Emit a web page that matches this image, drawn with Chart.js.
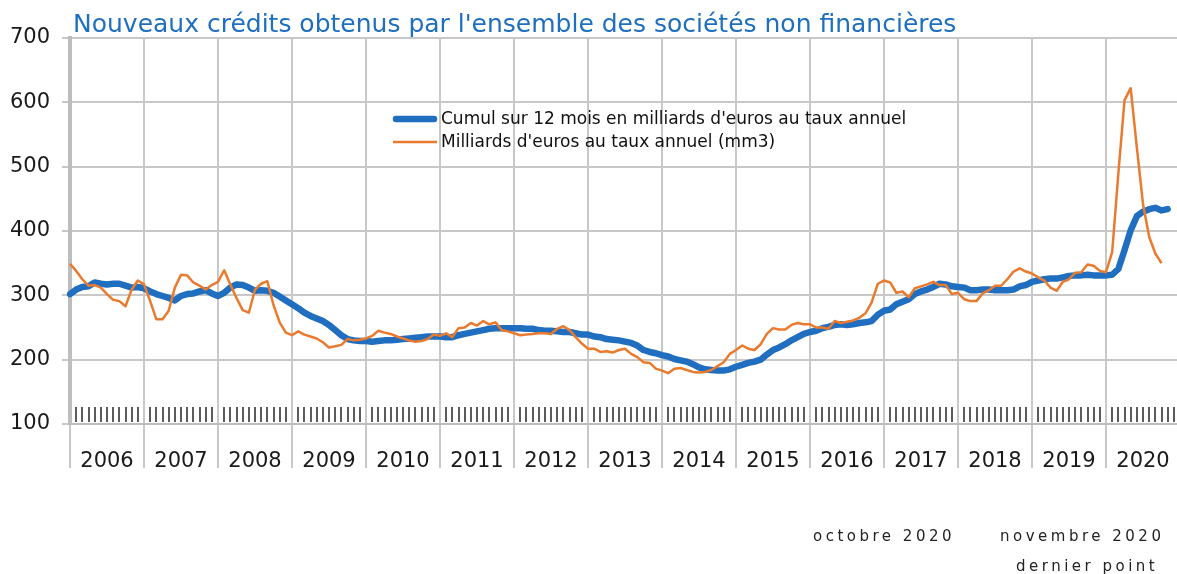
<!DOCTYPE html>
<html>
<head>
<meta charset="utf-8">
<script src="https://cdn.jsdelivr.net/npm/chart.js@4"></script>
<style>
  html, body { margin: 0; padding: 0; background: #fff; overflow: hidden; }
  #wrap { position: relative; width: 1177px; height: 574px; overflow: hidden; }
  canvas { position: absolute; left: 0; top: 0; }
  .note { position: absolute; font-family: "DejaVu Sans"; font-size: 15px; letter-spacing: 3.5px; color: #222; white-space: nowrap; }
</style>
</head>
<body>
<div id="wrap">
  <canvas id="graphCredits" width="1180" height="574"></canvas>
  <div class="note" style="left:813px; top:527px">octobre 2020</div>
  <div class="note" style="left:1000px; top:527px">novembre 2020</div>
  <div class="note" style="left:1016px; top:557px">dernier point</div>
</div>
<script>
const title = "Nouveaux crédits obtenus par l'ensemble des sociétés non financières";
const years = [2006, 2007, 2008, 2009, 2010, 2011, 2012, 2013, 2014, 2015, 2016, 2017, 2018, 2019, 2020];
const yTicks = [100, 200, 300, 400, 500, 600, 700];

// Cumul sur 12 mois, janv. 2006 -> nov. 2020
const cumul12m = [
  302, 309, 313, 314, 320, 318, 317, 318, 318, 315, 312, 313,
  311, 306, 302, 299, 296, 292, 299, 302, 303, 306, 308, 303,
  299, 304, 312, 317, 316, 312, 307, 308, 307, 304, 298, 292,
  286, 280, 273, 268, 264, 260, 254, 246, 238, 232, 230, 229,
  229, 228, 229, 230, 230, 231, 232, 233, 234, 235, 236, 236,
  236, 235, 235, 238, 240, 242, 244, 246, 248, 249, 249, 249,
  249, 249, 248, 248, 246, 245, 245, 244, 243, 243, 241, 239,
  239, 236, 235, 232, 231, 230, 228, 226, 222, 215, 212, 210,
  207, 205, 201, 199, 197, 193, 188, 185, 184, 183, 183, 185,
  189, 192, 195, 197, 200, 208, 215, 219, 224, 230, 235, 240,
  243, 245, 249, 251, 254, 255, 254, 255, 257, 258, 260, 270,
  276, 278, 286, 290, 294, 302, 306, 309, 313, 318, 317, 314,
  313, 312, 308, 308, 309, 309, 308, 308, 308, 309, 314, 316,
  321, 323, 325, 326, 326, 328, 330, 331, 331, 332, 331, 331,
  331, 332, 341, 370, 401, 423, 430, 434, 436, 432, 434
];

// Taux annuel mm3, janv. 2006 -> oct. 2020
const mm3 = [
  349, 338, 325, 315, 316, 312, 302, 293, 291, 283, 309, 323,
  317, 291, 263, 263, 276, 312, 332, 331, 320, 315, 309, 316,
  321, 339, 317, 296, 277, 273, 309, 318, 322, 285, 258, 242,
  238, 244, 239, 236, 233, 227, 219, 221, 223, 232, 230, 231,
  233, 237, 245, 242, 240, 236, 233, 230, 228, 229, 232, 239,
  237, 241, 235, 249, 250, 257, 253, 260, 255, 258, 246, 244,
  241, 238, 239, 240, 241, 241, 240, 248, 252, 246, 235, 225,
  217, 217, 212, 213, 211, 215, 217, 209, 204, 196, 195, 186,
  183, 179, 186, 187, 184, 181, 180, 181, 184, 190, 196, 209,
  215, 222, 217, 215, 224, 240, 249, 247, 247, 254, 257, 255,
  255, 250, 250, 248, 260, 257, 259, 261, 265, 272, 289, 318,
  323, 320, 304, 306, 297, 311, 314, 317, 321, 316, 316, 302,
  304, 294, 291, 291, 303, 308, 315, 315, 325, 337, 342, 337,
  334, 328, 323, 312, 307, 321, 325, 335, 336, 348, 346, 338,
  336, 367, 489, 603, 622, 530, 442, 391, 365, 350
];

// one label per month, plus janv. 2021 as right edge of the axis
const months = [];
years.forEach(y => {
  for (let m = 1; m <= 12; m++) months.push(y + '-' + String(m).padStart(2, '0'));
});
months.push('2021-01');

const yearLine = ctx => (ctx.index % 12 === 0 ? '#c8c8c8' : 'rgba(0,0,0,0)');

const decor = {
  id: 'decor',
  beforeDatasetsDraw(chart) {
    const { ctx, chartArea, scales } = chart;
    ctx.save();
    ctx.strokeStyle = '#333';
    ctx.lineWidth = 1.6;
    for (let i = 1; i < months.length - 1; i++) {
      if (i % 12 === 0) continue;
      const px = Math.round(scales.x.getPixelForTick(i));
      ctx.beginPath();
      ctx.moveTo(px, chartArea.bottom - 17);
      ctx.lineTo(px, chartArea.bottom - 2);
      ctx.stroke();
    }
    ctx.restore();
  },
  afterDraw(chart) {
    const { ctx } = chart;
    ctx.save();
    // titre
    ctx.font = '25px "DejaVu Sans"';
    ctx.fillStyle = '#1f6fc0';
    ctx.textBaseline = 'alphabetic';
    ctx.fillText(title, 73, 32);
    // legende
    ctx.font = '17px "DejaVu Sans"';
    ctx.fillStyle = '#111';
    ctx.textBaseline = 'middle';
    chart.data.datasets.forEach((ds, k) => {
      const y = 119 + k * 23;
      ctx.strokeStyle = ds.borderColor;
      ctx.lineWidth = ds.borderWidth;
      ctx.lineCap = k === 0 ? 'round' : 'butt';
      ctx.beginPath();
      ctx.moveTo(k === 0 ? 396 : 393, y);
      ctx.lineTo(k === 0 ? 434 : 437, y);
      ctx.stroke();
      ctx.fillText(ds.label, 441, y + 1);
    });
    ctx.restore();
  }
};

new Chart(document.getElementById('graphCredits'), {
  type: 'line',
  data: {
    labels: months,
    datasets: [
      {
        label: "Cumul sur 12 mois en milliards d'euros au taux annuel",
        data: cumul12m,
        borderColor: '#1f6ebf',
        borderWidth: 6.5,
        borderCapStyle: 'round',
        borderJoinStyle: 'round',
        pointRadius: 0,
        fill: false,
        order: 2
      },
      {
        label: "Milliards d'euros au taux annuel (mm3)",
        data: mm3,
        borderColor: '#e97a2e',
        borderWidth: 2.5,
        borderJoinStyle: 'round',
        pointRadius: 0,
        fill: false,
        order: 1
      }
    ]
  },
  options: {
    responsive: false,
    animation: false,
    layout: { padding: { top: 38, left: 0, right: 0, bottom: 0 } },
    plugins: {
      legend: { display: false },
      tooltip: { enabled: false }
    },
    scales: {
      x: {
        type: 'category',
        offset: false,
        afterFit: s => { s.height = 150; },
        border: { display: true, color: '#bdbdbd', width: 2 },
        grid: {
          color: yearLine,
          tickColor: yearLine,
          lineWidth: 2,
          tickLength: 44
        },
        ticks: {
          autoSkip: false,
          maxRotation: 0,
          minRotation: 0,
          padding: -19,
          color: '#1a1a1a',
          font: { family: 'DejaVu Sans', size: 21 },
          callback: (v, i) => (i % 12 === 6 ? months[i].slice(0, 4) : '')
        }
      },
      y: {
        min: 100,
        max: 700,
        afterFit: s => { s.width = 70; },
        afterBuildTicks: s => { s.ticks = yTicks.map(v => ({ value: v })); },
        border: { display: true, color: '#bdbdbd', width: 4 },
        grid: { color: '#c8c8c8', lineWidth: 2, tickLength: 8 },
        ticks: {
          padding: 12,
          color: '#1a1a1a',
          font: { family: 'DejaVu Sans', size: 21 }
        }
      }
    }
  },
  plugins: [decor]
});
</script>
</body>
</html>
